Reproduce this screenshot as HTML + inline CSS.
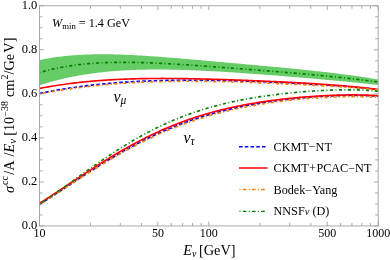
<!DOCTYPE html>
<html><head><meta charset="utf-8"><style>
html,body{margin:0;padding:0;background:#fff;overflow:hidden;}
svg{display:block;font-family:"Liberation Serif",serif;}
text{filter:grayscale(1);}
</style></head><body>
<svg width="390" height="260" viewBox="0 0 390 260">
<rect width="390" height="260" fill="#fff"/>
<path d="M39.50,60.16 L41.20,59.79 L42.90,59.44 L44.61,59.10 L46.31,58.77 L48.01,58.46 L49.71,58.16 L51.41,57.88 L53.12,57.61 L54.82,57.35 L56.52,57.10 L58.22,56.87 L59.92,56.65 L61.63,56.44 L63.33,56.24 L65.03,56.05 L66.73,55.87 L68.43,55.70 L70.14,55.55 L71.84,55.40 L73.54,55.27 L75.24,55.14 L76.94,55.02 L78.65,54.91 L80.35,54.81 L82.05,54.72 L83.75,54.64 L85.45,54.57 L87.16,54.50 L88.86,54.45 L90.56,54.40 L92.26,54.35 L93.96,54.32 L95.67,54.29 L97.37,54.27 L99.07,54.26 L100.77,54.25 L102.47,54.25 L104.18,54.25 L105.88,54.26 L107.58,54.28 L109.28,54.30 L110.98,54.33 L112.69,54.36 L114.39,54.40 L116.09,54.44 L117.79,54.49 L119.49,54.55 L121.20,54.60 L122.90,54.66 L124.60,54.73 L126.30,54.80 L128.00,54.88 L129.71,54.95 L131.41,55.03 L133.11,55.12 L134.81,55.21 L136.51,55.30 L138.22,55.40 L139.92,55.49 L141.62,55.60 L143.32,55.70 L145.02,55.81 L146.73,55.92 L148.43,56.03 L150.13,56.14 L151.83,56.26 L153.53,56.38 L155.24,56.50 L156.94,56.62 L158.64,56.75 L160.34,56.87 L162.04,57.00 L163.75,57.13 L165.45,57.26 L167.15,57.40 L168.85,57.53 L170.55,57.67 L172.26,57.80 L173.96,57.94 L175.66,58.08 L177.36,58.22 L179.06,58.36 L180.77,58.51 L182.47,58.65 L184.17,58.79 L185.87,58.94 L187.57,59.08 L189.28,59.23 L190.98,59.38 L192.68,59.53 L194.38,59.67 L196.08,59.82 L197.79,59.97 L199.49,60.12 L201.19,60.27 L202.89,60.42 L204.59,60.57 L206.30,60.72 L208.00,60.88 L209.70,61.03 L211.40,61.18 L213.11,61.33 L214.81,61.48 L216.51,61.64 L218.21,61.79 L219.91,61.94 L221.62,62.09 L223.32,62.25 L225.02,62.40 L226.72,62.55 L228.42,62.71 L230.13,62.86 L231.83,63.01 L233.53,63.16 L235.23,63.32 L236.93,63.47 L238.64,63.62 L240.34,63.78 L242.04,63.93 L243.74,64.09 L245.44,64.24 L247.15,64.39 L248.85,64.55 L250.55,64.70 L252.25,64.86 L253.95,65.01 L255.66,65.17 L257.36,65.32 L259.06,65.48 L260.76,65.63 L262.46,65.79 L264.17,65.94 L265.87,66.10 L267.57,66.26 L269.27,66.41 L270.97,66.57 L272.68,66.73 L274.38,66.89 L276.08,67.05 L277.78,67.21 L279.48,67.37 L281.19,67.53 L282.89,67.69 L284.59,67.85 L286.29,68.02 L287.99,68.18 L289.70,68.35 L291.40,68.51 L293.10,68.68 L294.80,68.85 L296.50,69.02 L298.21,69.19 L299.91,69.36 L301.61,69.53 L303.31,69.71 L305.01,69.88 L306.72,70.06 L308.42,70.23 L310.12,70.41 L311.82,70.59 L313.52,70.78 L315.23,70.96 L316.93,71.15 L318.63,71.33 L320.33,71.52 L322.03,71.72 L323.74,71.91 L325.44,72.10 L327.14,72.30 L328.84,72.50 L330.54,72.70 L332.25,72.91 L333.95,73.11 L335.65,73.32 L337.35,73.53 L339.05,73.75 L340.76,73.96 L342.46,74.18 L344.16,74.40 L345.86,74.63 L347.56,74.85 L349.27,75.09 L350.97,75.32 L352.67,75.56 L354.37,75.79 L356.07,76.04 L357.78,76.28 L359.48,76.53 L361.18,76.79 L362.88,77.04 L364.58,77.30 L366.29,77.57 L367.99,77.83 L369.69,78.11 L371.39,78.38 L373.09,78.66 L374.80,78.94 L376.50,79.23 L378.20,79.52 L378.20,84.93 L376.50,84.74 L374.80,84.56 L373.09,84.38 L371.39,84.20 L369.69,84.02 L367.99,83.84 L366.29,83.66 L364.58,83.48 L362.88,83.31 L361.18,83.14 L359.48,82.96 L357.78,82.79 L356.07,82.62 L354.37,82.45 L352.67,82.28 L350.97,82.12 L349.27,81.95 L347.56,81.79 L345.86,81.62 L344.16,81.46 L342.46,81.30 L340.76,81.14 L339.05,80.98 L337.35,80.82 L335.65,80.66 L333.95,80.50 L332.25,80.34 L330.54,80.19 L328.84,80.03 L327.14,79.88 L325.44,79.73 L323.74,79.57 L322.03,79.42 L320.33,79.27 L318.63,79.12 L316.93,78.97 L315.23,78.82 L313.52,78.67 L311.82,78.52 L310.12,78.37 L308.42,78.23 L306.72,78.08 L305.01,77.94 L303.31,77.79 L301.61,77.65 L299.91,77.50 L298.21,77.36 L296.50,77.22 L294.80,77.08 L293.10,76.93 L291.40,76.79 L289.70,76.65 L287.99,76.51 L286.29,76.38 L284.59,76.24 L282.89,76.10 L281.19,75.96 L279.48,75.83 L277.78,75.69 L276.08,75.56 L274.38,75.42 L272.68,75.29 L270.97,75.16 L269.27,75.03 L267.57,74.90 L265.87,74.77 L264.17,74.64 L262.46,74.51 L260.76,74.38 L259.06,74.25 L257.36,74.13 L255.66,74.00 L253.95,73.88 L252.25,73.75 L250.55,73.63 L248.85,73.51 L247.15,73.39 L245.44,73.27 L243.74,73.15 L242.04,73.03 L240.34,72.92 L238.64,72.80 L236.93,72.69 L235.23,72.58 L233.53,72.46 L231.83,72.35 L230.13,72.25 L228.42,72.14 L226.72,72.03 L225.02,71.93 L223.32,71.83 L221.62,71.72 L219.91,71.62 L218.21,71.53 L216.51,71.43 L214.81,71.33 L213.11,71.24 L211.40,71.15 L209.70,71.06 L208.00,70.97 L206.30,70.89 L204.59,70.80 L202.89,70.72 L201.19,70.64 L199.49,70.56 L197.79,70.49 L196.08,70.42 L194.38,70.35 L192.68,70.28 L190.98,70.21 L189.28,70.15 L187.57,70.09 L185.87,70.03 L184.17,69.98 L182.47,69.92 L180.77,69.88 L179.06,69.83 L177.36,69.79 L175.66,69.75 L173.96,69.71 L172.26,69.67 L170.55,69.64 L168.85,69.62 L167.15,69.59 L165.45,69.57 L163.75,69.56 L162.04,69.54 L160.34,69.54 L158.64,69.53 L156.94,69.53 L155.24,69.53 L153.53,69.54 L151.83,69.55 L150.13,69.57 L148.43,69.59 L146.73,69.61 L145.02,69.64 L143.32,69.68 L141.62,69.72 L139.92,69.76 L138.22,69.81 L136.51,69.86 L134.81,69.92 L133.11,69.99 L131.41,70.06 L129.71,70.13 L128.00,70.21 L126.30,70.30 L124.60,70.39 L122.90,70.49 L121.20,70.60 L119.49,70.71 L117.79,70.83 L116.09,70.95 L114.39,71.08 L112.69,71.22 L110.98,71.36 L109.28,71.51 L107.58,71.67 L105.88,71.84 L104.18,72.01 L102.47,72.19 L100.77,72.38 L99.07,72.57 L97.37,72.78 L95.67,72.99 L93.96,73.21 L92.26,73.44 L90.56,73.67 L88.86,73.92 L87.16,74.17 L85.45,74.43 L83.75,74.71 L82.05,74.99 L80.35,75.28 L78.65,75.57 L76.94,75.88 L75.24,76.20 L73.54,76.53 L71.84,76.87 L70.14,77.22 L68.43,77.58 L66.73,77.95 L65.03,78.33 L63.33,78.72 L61.63,79.12 L59.92,79.53 L58.22,79.96 L56.52,80.40 L54.82,80.84 L53.12,81.30 L51.41,81.78 L49.71,82.26 L48.01,82.76 L46.31,83.27 L44.61,83.79 L42.90,84.32 L41.20,84.87 L39.50,85.43Z" fill="#66cd66" stroke="none"/>
<g fill="none" stroke-linecap="butt">
<path d="M39.50,93.51 L41.20,93.15 L42.90,92.80 L44.61,92.46 L46.31,92.12 L48.01,91.79 L49.71,91.47 L51.41,91.15 L53.12,90.83 L54.82,90.53 L56.52,90.22 L58.22,89.93 L59.92,89.63 L61.63,89.35 L63.33,89.07 L65.03,88.79 L66.73,88.52 L68.43,88.26 L70.14,88.00 L71.84,87.74 L73.54,87.49 L75.24,87.25 L76.94,87.01 L78.65,86.77 L80.35,86.54 L82.05,86.32 L83.75,86.10 L85.45,85.89 L87.16,85.68 L88.86,85.47 L90.56,85.27 L92.26,85.08 L93.96,84.89 L95.67,84.70 L97.37,84.52 L99.07,84.34 L100.77,84.17 L102.47,84.00 L104.18,83.83 L105.88,83.67 L107.58,83.52 L109.28,83.37 L110.98,83.22 L112.69,83.08 L114.39,82.94 L116.09,82.80 L117.79,82.67 L119.49,82.55 L121.20,82.42 L122.90,82.30 L124.60,82.19 L126.30,82.08 L128.00,81.97 L129.71,81.87 L131.41,81.77 L133.11,81.67 L134.81,81.58 L136.51,81.49 L138.22,81.40 L139.92,81.32 L141.62,81.24 L143.32,81.16 L145.02,81.09 L146.73,81.02 L148.43,80.95 L150.13,80.89 L151.83,80.83 L153.53,80.77 L155.24,80.72 L156.94,80.67 L158.64,80.62 L160.34,80.57 L162.04,80.53 L163.75,80.49 L165.45,80.46 L167.15,80.42 L168.85,80.39 L170.55,80.36 L172.26,80.34 L173.96,80.31 L175.66,80.29 L177.36,80.27 L179.06,80.26 L180.77,80.24 L182.47,80.23 L184.17,80.22 L185.87,80.22 L187.57,80.21 L189.28,80.21 L190.98,80.21 L192.68,80.22 L194.38,80.22 L196.08,80.23 L197.79,80.24 L199.49,80.25 L201.19,80.26 L202.89,80.27 L204.59,80.29 L206.30,80.31 L208.00,80.33 L209.70,80.35 L211.40,80.38 L213.11,80.40 L214.81,80.43 L216.51,80.46 L218.21,80.49 L219.91,80.52 L221.62,80.56 L223.32,80.59 L225.02,80.63 L226.72,80.67 L228.42,80.71 L230.13,80.75 L231.83,80.79 L233.53,80.84 L235.23,80.88 L236.93,80.93 L238.64,80.98 L240.34,81.03 L242.04,81.08 L243.74,81.14 L245.44,81.19 L247.15,81.25 L248.85,81.30 L250.55,81.36 L252.25,81.42 L253.95,81.48 L255.66,81.54 L257.36,81.61 L259.06,81.67 L260.76,81.74 L262.46,81.80 L264.17,81.87 L265.87,81.94 L267.57,82.01 L269.27,82.08 L270.97,82.15 L272.68,82.23 L274.38,82.30 L276.08,82.38 L277.78,82.45 L279.48,82.53 L281.19,82.61 L282.89,82.69 L284.59,82.77 L286.29,82.85 L287.99,82.94 L289.70,83.02 L291.40,83.11 L293.10,83.19 L294.80,83.28 L296.50,83.37 L298.21,83.46 L299.91,83.55 L301.61,83.64 L303.31,83.74 L305.01,83.83 L306.72,83.93 L308.42,84.02 L310.12,84.12 L311.82,84.22 L313.52,84.32 L315.23,84.42 L316.93,84.53 L318.63,84.63 L320.33,84.74 L322.03,84.84 L323.74,84.95 L325.44,85.06 L327.14,85.17 L328.84,85.29 L330.54,85.40 L332.25,85.52 L333.95,85.63 L335.65,85.75 L337.35,85.87 L339.05,86.00 L340.76,86.12 L342.46,86.24 L344.16,86.37 L345.86,86.50 L347.56,86.63 L349.27,86.76 L350.97,86.90 L352.67,87.04 L354.37,87.17 L356.07,87.32 L357.78,87.46 L359.48,87.60 L361.18,87.75 L362.88,87.90 L364.58,88.05 L366.29,88.21 L367.99,88.36 L369.69,88.52 L371.39,88.68 L373.09,88.85 L374.80,89.01 L376.50,89.18 L378.20,89.36" stroke="#0000ff" stroke-width="1.65" stroke-dasharray="3.6,2.15"/>
<path d="M39.50,204.27 L41.20,203.21 L42.90,202.14 L44.61,201.07 L46.31,199.99 L48.01,198.90 L49.71,197.81 L51.41,196.71 L53.12,195.61 L54.82,194.50 L56.52,193.39 L58.22,192.28 L59.92,191.17 L61.63,190.05 L63.33,188.93 L65.03,187.81 L66.73,186.69 L68.43,185.57 L70.14,184.45 L71.84,183.33 L73.54,182.21 L75.24,181.09 L76.94,179.98 L78.65,178.86 L80.35,177.75 L82.05,176.64 L83.75,175.53 L85.45,174.43 L87.16,173.33 L88.86,172.24 L90.56,171.15 L92.26,170.06 L93.96,168.98 L95.67,167.90 L97.37,166.83 L99.07,165.76 L100.77,164.70 L102.47,163.65 L104.18,162.60 L105.88,161.56 L107.58,160.52 L109.28,159.50 L110.98,158.48 L112.69,157.46 L114.39,156.45 L116.09,155.46 L117.79,154.46 L119.49,153.48 L121.20,152.51 L122.90,151.54 L124.60,150.58 L126.30,149.63 L128.00,148.69 L129.71,147.75 L131.41,146.83 L133.11,145.91 L134.81,145.01 L136.51,144.11 L138.22,143.22 L139.92,142.34 L141.62,141.47 L143.32,140.61 L145.02,139.76 L146.73,138.92 L148.43,138.09 L150.13,137.26 L151.83,136.45 L153.53,135.65 L155.24,134.85 L156.94,134.07 L158.64,133.29 L160.34,132.53 L162.04,131.77 L163.75,131.03 L165.45,130.29 L167.15,129.57 L168.85,128.85 L170.55,128.14 L172.26,127.44 L173.96,126.76 L175.66,126.08 L177.36,125.41 L179.06,124.75 L180.77,124.10 L182.47,123.46 L184.17,122.83 L185.87,122.21 L187.57,121.60 L189.28,121.00 L190.98,120.40 L192.68,119.82 L194.38,119.24 L196.08,118.68 L197.79,118.12 L199.49,117.57 L201.19,117.03 L202.89,116.50 L204.59,115.98 L206.30,115.47 L208.00,114.96 L209.70,114.47 L211.40,113.98 L213.11,113.50 L214.81,113.03 L216.51,112.56 L218.21,112.11 L219.91,111.66 L221.62,111.22 L223.32,110.79 L225.02,110.37 L226.72,109.95 L228.42,109.54 L230.13,109.14 L231.83,108.75 L233.53,108.36 L235.23,107.98 L236.93,107.61 L238.64,107.25 L240.34,106.89 L242.04,106.54 L243.74,106.19 L245.44,105.85 L247.15,105.52 L248.85,105.20 L250.55,104.88 L252.25,104.57 L253.95,104.26 L255.66,103.96 L257.36,103.66 L259.06,103.38 L260.76,103.09 L262.46,102.82 L264.17,102.55 L265.87,102.28 L267.57,102.02 L269.27,101.77 L270.97,101.52 L272.68,101.28 L274.38,101.04 L276.08,100.80 L277.78,100.58 L279.48,100.35 L281.19,100.14 L282.89,99.92 L284.59,99.72 L286.29,99.51 L287.99,99.32 L289.70,99.12 L291.40,98.94 L293.10,98.75 L294.80,98.57 L296.50,98.40 L298.21,98.23 L299.91,98.07 L301.61,97.91 L303.31,97.75 L305.01,97.60 L306.72,97.45 L308.42,97.31 L310.12,97.18 L311.82,97.04 L313.52,96.92 L315.23,96.79 L316.93,96.68 L318.63,96.56 L320.33,96.45 L322.03,96.35 L323.74,96.25 L325.44,96.16 L327.14,96.07 L328.84,95.99 L330.54,95.91 L332.25,95.83 L333.95,95.77 L335.65,95.70 L337.35,95.64 L339.05,95.59 L340.76,95.55 L342.46,95.51 L344.16,95.47 L345.86,95.44 L347.56,95.42 L349.27,95.41 L350.97,95.40 L352.67,95.39 L354.37,95.40 L356.07,95.41 L357.78,95.42 L359.48,95.45 L361.18,95.48 L362.88,95.52 L364.58,95.57 L366.29,95.63 L367.99,95.69 L369.69,95.76 L371.39,95.84 L373.09,95.93 L374.80,96.03 L376.50,96.14 L378.20,96.26" stroke="#0000ff" stroke-width="1.65" stroke-dasharray="3.6,2.15"/>
<path d="M39.50,88.46 L41.20,88.14 L42.90,87.81 L44.61,87.50 L46.31,87.19 L48.01,86.89 L49.71,86.59 L51.41,86.30 L53.12,86.02 L54.82,85.74 L56.52,85.47 L58.22,85.21 L59.92,84.95 L61.63,84.70 L63.33,84.46 L65.03,84.22 L66.73,83.99 L68.43,83.76 L70.14,83.54 L71.84,83.32 L73.54,83.11 L75.24,82.91 L76.94,82.71 L78.65,82.52 L80.35,82.33 L82.05,82.15 L83.75,81.97 L85.45,81.80 L87.16,81.63 L88.86,81.47 L90.56,81.31 L92.26,81.16 L93.96,81.02 L95.67,80.87 L97.37,80.74 L99.07,80.61 L100.77,80.48 L102.47,80.36 L104.18,80.24 L105.88,80.12 L107.58,80.01 L109.28,79.91 L110.98,79.81 L112.69,79.71 L114.39,79.62 L116.09,79.53 L117.79,79.45 L119.49,79.36 L121.20,79.29 L122.90,79.21 L124.60,79.15 L126.30,79.08 L128.00,79.02 L129.71,78.96 L131.41,78.90 L133.11,78.85 L134.81,78.81 L136.51,78.76 L138.22,78.72 L139.92,78.68 L141.62,78.65 L143.32,78.61 L145.02,78.58 L146.73,78.56 L148.43,78.53 L150.13,78.51 L151.83,78.50 L153.53,78.48 L155.24,78.47 L156.94,78.46 L158.64,78.45 L160.34,78.45 L162.04,78.44 L163.75,78.44 L165.45,78.45 L167.15,78.45 L168.85,78.46 L170.55,78.47 L172.26,78.48 L173.96,78.49 L175.66,78.51 L177.36,78.52 L179.06,78.54 L180.77,78.57 L182.47,78.59 L184.17,78.61 L185.87,78.64 L187.57,78.67 L189.28,78.70 L190.98,78.73 L192.68,78.76 L194.38,78.80 L196.08,78.83 L197.79,78.87 L199.49,78.91 L201.19,78.95 L202.89,78.99 L204.59,79.03 L206.30,79.08 L208.00,79.12 L209.70,79.17 L211.40,79.22 L213.11,79.26 L214.81,79.31 L216.51,79.37 L218.21,79.42 L219.91,79.47 L221.62,79.52 L223.32,79.58 L225.02,79.64 L226.72,79.69 L228.42,79.75 L230.13,79.81 L231.83,79.87 L233.53,79.93 L235.23,79.99 L236.93,80.05 L238.64,80.12 L240.34,80.18 L242.04,80.24 L243.74,80.31 L245.44,80.37 L247.15,80.44 L248.85,80.51 L250.55,80.58 L252.25,80.65 L253.95,80.72 L255.66,80.79 L257.36,80.86 L259.06,80.93 L260.76,81.00 L262.46,81.07 L264.17,81.15 L265.87,81.22 L267.57,81.30 L269.27,81.38 L270.97,81.45 L272.68,81.53 L274.38,81.61 L276.08,81.69 L277.78,81.77 L279.48,81.85 L281.19,81.93 L282.89,82.01 L284.59,82.10 L286.29,82.18 L287.99,82.27 L289.70,82.35 L291.40,82.44 L293.10,82.53 L294.80,82.62 L296.50,82.71 L298.21,82.80 L299.91,82.90 L301.61,82.99 L303.31,83.09 L305.01,83.18 L306.72,83.28 L308.42,83.38 L310.12,83.48 L311.82,83.59 L313.52,83.69 L315.23,83.80 L316.93,83.90 L318.63,84.01 L320.33,84.12 L322.03,84.24 L323.74,84.35 L325.44,84.47 L327.14,84.59 L328.84,84.71 L330.54,84.83 L332.25,84.96 L333.95,85.08 L335.65,85.21 L337.35,85.35 L339.05,85.48 L340.76,85.62 L342.46,85.76 L344.16,85.90 L345.86,86.05 L347.56,86.20 L349.27,86.35 L350.97,86.51 L352.67,86.66 L354.37,86.83 L356.07,86.99 L357.78,87.16 L359.48,87.33 L361.18,87.51 L362.88,87.69 L364.58,87.87 L366.29,88.06 L367.99,88.26 L369.69,88.45 L371.39,88.65 L373.09,88.86 L374.80,89.07 L376.50,89.29 L378.20,89.51" stroke="#ff0000" stroke-width="1.65"/>
<path d="M39.50,203.26 L41.20,202.21 L42.90,201.16 L44.61,200.09 L46.31,199.01 L48.01,197.93 L49.71,196.84 L51.41,195.75 L53.12,194.64 L54.82,193.54 L56.52,192.42 L58.22,191.31 L59.92,190.19 L61.63,189.06 L63.33,187.94 L65.03,186.81 L66.73,185.68 L68.43,184.55 L70.14,183.42 L71.84,182.29 L73.54,181.16 L75.24,180.02 L76.94,178.89 L78.65,177.77 L80.35,176.64 L82.05,175.52 L83.75,174.40 L85.45,173.28 L87.16,172.16 L88.86,171.05 L90.56,169.94 L92.26,168.84 L93.96,167.74 L95.67,166.65 L97.37,165.56 L99.07,164.48 L100.77,163.40 L102.47,162.33 L104.18,161.27 L105.88,160.21 L107.58,159.16 L109.28,158.11 L110.98,157.08 L112.69,156.05 L114.39,155.03 L116.09,154.01 L117.79,153.01 L119.49,152.01 L121.20,151.02 L122.90,150.04 L124.60,149.07 L126.30,148.11 L128.00,147.15 L129.71,146.21 L131.41,145.27 L133.11,144.35 L134.81,143.43 L136.51,142.52 L138.22,141.63 L139.92,140.74 L141.62,139.86 L143.32,138.99 L145.02,138.14 L146.73,137.29 L148.43,136.45 L150.13,135.62 L151.83,134.80 L153.53,134.00 L155.24,133.20 L156.94,132.41 L158.64,131.64 L160.34,130.87 L162.04,130.11 L163.75,129.37 L165.45,128.63 L167.15,127.91 L168.85,127.19 L170.55,126.49 L172.26,125.79 L173.96,125.11 L175.66,124.43 L177.36,123.77 L179.06,123.12 L180.77,122.47 L182.47,121.84 L184.17,121.21 L185.87,120.60 L187.57,120.00 L189.28,119.40 L190.98,118.82 L192.68,118.24 L194.38,117.68 L196.08,117.12 L197.79,116.57 L199.49,116.04 L201.19,115.51 L202.89,114.99 L204.59,114.48 L206.30,113.98 L208.00,113.49 L209.70,113.01 L211.40,112.53 L213.11,112.07 L214.81,111.61 L216.51,111.16 L218.21,110.72 L219.91,110.29 L221.62,109.87 L223.32,109.45 L225.02,109.05 L226.72,108.65 L228.42,108.25 L230.13,107.87 L231.83,107.49 L233.53,107.12 L235.23,106.76 L236.93,106.41 L238.64,106.06 L240.34,105.72 L242.04,105.38 L243.74,105.06 L245.44,104.74 L247.15,104.42 L248.85,104.11 L250.55,103.81 L252.25,103.52 L253.95,103.23 L255.66,102.95 L257.36,102.67 L259.06,102.40 L260.76,102.13 L262.46,101.87 L264.17,101.62 L265.87,101.37 L267.57,101.13 L269.27,100.89 L270.97,100.66 L272.68,100.43 L274.38,100.21 L276.08,99.99 L277.78,99.78 L279.48,99.57 L281.19,99.37 L282.89,99.17 L284.59,98.98 L286.29,98.79 L287.99,98.60 L289.70,98.42 L291.40,98.25 L293.10,98.08 L294.80,97.91 L296.50,97.75 L298.21,97.59 L299.91,97.44 L301.61,97.29 L303.31,97.14 L305.01,97.00 L306.72,96.87 L308.42,96.73 L310.12,96.61 L311.82,96.48 L313.52,96.36 L315.23,96.25 L316.93,96.14 L318.63,96.03 L320.33,95.93 L322.03,95.83 L323.74,95.74 L325.44,95.65 L327.14,95.56 L328.84,95.48 L330.54,95.41 L332.25,95.34 L333.95,95.27 L335.65,95.21 L337.35,95.16 L339.05,95.11 L340.76,95.06 L342.46,95.02 L344.16,94.99 L345.86,94.96 L347.56,94.94 L349.27,94.92 L350.97,94.91 L352.67,94.91 L354.37,94.91 L356.07,94.92 L357.78,94.94 L359.48,94.96 L361.18,94.99 L362.88,95.03 L364.58,95.08 L366.29,95.13 L367.99,95.19 L369.69,95.26 L371.39,95.34 L373.09,95.43 L374.80,95.53 L376.50,95.64 L378.20,95.75" stroke="#ff0000" stroke-width="1.65"/>
<path d="M39.50,93.77 L41.20,93.46 L42.90,93.16 L44.61,92.86 L46.31,92.57 L48.01,92.27 L49.71,91.99 L51.41,91.70 L53.12,91.42 L54.82,91.15 L56.52,90.87 L58.22,90.60 L59.92,90.34 L61.63,90.08 L63.33,89.82 L65.03,89.57 L66.73,89.32 L68.43,89.07 L70.14,88.83 L71.84,88.59 L73.54,88.35 L75.24,88.12 L76.94,87.90 L78.65,87.68 L80.35,87.46 L82.05,87.24 L83.75,87.03 L85.45,86.83 L87.16,86.63 L88.86,86.43 L90.56,86.23 L92.26,86.04 L93.96,85.86 L95.67,85.68 L97.37,85.50 L99.07,85.33 L100.77,85.16 L102.47,84.99 L104.18,84.83 L105.88,84.67 L107.58,84.52 L109.28,84.37 L110.98,84.22 L112.69,84.08 L114.39,83.94 L116.09,83.81 L117.79,83.68 L119.49,83.55 L121.20,83.43 L122.90,83.31 L124.60,83.20 L126.30,83.08 L128.00,82.98 L129.71,82.87 L131.41,82.77 L133.11,82.68 L134.81,82.58 L136.51,82.49 L138.22,82.41 L139.92,82.33 L141.62,82.25 L143.32,82.17 L145.02,82.10 L146.73,82.03 L148.43,81.97 L150.13,81.90 L151.83,81.85 L153.53,81.79 L155.24,81.74 L156.94,81.69 L158.64,81.64 L160.34,81.60 L162.04,81.56 L163.75,81.52 L165.45,81.49 L167.15,81.46 L168.85,81.43 L170.55,81.40 L172.26,81.38 L173.96,81.36 L175.66,81.34 L177.36,81.33 L179.06,81.32 L180.77,81.31 L182.47,81.30 L184.17,81.29 L185.87,81.29 L187.57,81.29 L189.28,81.29 L190.98,81.30 L192.68,81.31 L194.38,81.31 L196.08,81.33 L197.79,81.34 L199.49,81.35 L201.19,81.37 L202.89,81.39 L204.59,81.41 L206.30,81.43 L208.00,81.46 L209.70,81.49 L211.40,81.52 L213.11,81.55 L214.81,81.58 L216.51,81.61 L218.21,81.65 L219.91,81.68 L221.62,81.72 L223.32,81.76 L225.02,81.80 L226.72,81.85 L228.42,81.89 L230.13,81.93 L231.83,81.98 L233.53,82.03 L235.23,82.08 L236.93,82.13 L238.64,82.18 L240.34,82.23 L242.04,82.29 L243.74,82.34 L245.44,82.40 L247.15,82.45 L248.85,82.51 L250.55,82.57 L252.25,82.63 L253.95,82.69 L255.66,82.75 L257.36,82.82 L259.06,82.88 L260.76,82.94 L262.46,83.01 L264.17,83.08 L265.87,83.14 L267.57,83.21 L269.27,83.28 L270.97,83.35 L272.68,83.42 L274.38,83.49 L276.08,83.56 L277.78,83.63 L279.48,83.70 L281.19,83.78 L282.89,83.85 L284.59,83.92 L286.29,84.00 L287.99,84.08 L289.70,84.15 L291.40,84.23 L293.10,84.31 L294.80,84.39 L296.50,84.47 L298.21,84.55 L299.91,84.63 L301.61,84.71 L303.31,84.79 L305.01,84.88 L306.72,84.96 L308.42,85.05 L310.12,85.13 L311.82,85.22 L313.52,85.31 L315.23,85.40 L316.93,85.49 L318.63,85.58 L320.33,85.67 L322.03,85.76 L323.74,85.86 L325.44,85.95 L327.14,86.05 L328.84,86.15 L330.54,86.25 L332.25,86.35 L333.95,86.45 L335.65,86.56 L337.35,86.66 L339.05,86.77 L340.76,86.88 L342.46,86.99 L344.16,87.10 L345.86,87.21 L347.56,87.33 L349.27,87.45 L350.97,87.57 L352.67,87.69 L354.37,87.82 L356.07,87.95 L357.78,88.08 L359.48,88.21 L361.18,88.34 L362.88,88.48 L364.58,88.62 L366.29,88.77 L367.99,88.91 L369.69,89.06 L371.39,89.22 L373.09,89.37 L374.80,89.53 L376.50,89.70 L378.20,89.87" stroke="#ff8000" stroke-width="1.65" stroke-dasharray="1,2.4,3.2,2.4"/>
<path d="M39.50,204.69 L41.20,203.62 L42.90,202.55 L44.61,201.47 L46.31,200.38 L48.01,199.29 L49.71,198.20 L51.41,197.10 L53.12,196.00 L54.82,194.90 L56.52,193.79 L58.22,192.68 L59.92,191.57 L61.63,190.46 L63.33,189.34 L65.03,188.23 L66.73,187.12 L68.43,186.00 L70.14,184.89 L71.84,183.78 L73.54,182.67 L75.24,181.56 L76.94,180.45 L78.65,179.35 L80.35,178.25 L82.05,177.15 L83.75,176.06 L85.45,174.96 L87.16,173.88 L88.86,172.79 L90.56,171.71 L92.26,170.64 L93.96,169.57 L95.67,168.51 L97.37,167.45 L99.07,166.39 L100.77,165.35 L102.47,164.31 L104.18,163.27 L105.88,162.24 L107.58,161.22 L109.28,160.20 L110.98,159.20 L112.69,158.20 L114.39,157.20 L116.09,156.22 L117.79,155.24 L119.49,154.27 L121.20,153.30 L122.90,152.35 L124.60,151.40 L126.30,150.46 L128.00,149.53 L129.71,148.61 L131.41,147.70 L133.11,146.80 L134.81,145.90 L136.51,145.01 L138.22,144.14 L139.92,143.27 L141.62,142.41 L143.32,141.56 L145.02,140.72 L146.73,139.88 L148.43,139.06 L150.13,138.25 L151.83,137.44 L153.53,136.65 L155.24,135.86 L156.94,135.09 L158.64,134.32 L160.34,133.57 L162.04,132.82 L163.75,132.08 L165.45,131.35 L167.15,130.63 L168.85,129.92 L170.55,129.22 L172.26,128.53 L173.96,127.85 L175.66,127.18 L177.36,126.51 L179.06,125.86 L180.77,125.22 L182.47,124.58 L184.17,123.96 L185.87,123.34 L187.57,122.73 L189.28,122.13 L190.98,121.54 L192.68,120.96 L194.38,120.39 L196.08,119.83 L197.79,119.28 L199.49,118.73 L201.19,118.20 L202.89,117.67 L204.59,117.15 L206.30,116.64 L208.00,116.14 L209.70,115.64 L211.40,115.16 L213.11,114.68 L214.81,114.21 L216.51,113.75 L218.21,113.29 L219.91,112.85 L221.62,112.41 L223.32,111.98 L225.02,111.56 L226.72,111.14 L228.42,110.74 L230.13,110.34 L231.83,109.94 L233.53,109.56 L235.23,109.18 L236.93,108.81 L238.64,108.44 L240.34,108.09 L242.04,107.74 L243.74,107.39 L245.44,107.05 L247.15,106.72 L248.85,106.40 L250.55,106.08 L252.25,105.77 L253.95,105.46 L255.66,105.16 L257.36,104.87 L259.06,104.58 L260.76,104.30 L262.46,104.03 L264.17,103.76 L265.87,103.49 L267.57,103.23 L269.27,102.98 L270.97,102.73 L272.68,102.49 L274.38,102.25 L276.08,102.02 L277.78,101.79 L279.48,101.57 L281.19,101.35 L282.89,101.14 L284.59,100.94 L286.29,100.74 L287.99,100.54 L289.70,100.35 L291.40,100.16 L293.10,99.98 L294.80,99.80 L296.50,99.63 L298.21,99.46 L299.91,99.30 L301.61,99.14 L303.31,98.98 L305.01,98.83 L306.72,98.69 L308.42,98.55 L310.12,98.41 L311.82,98.28 L313.52,98.16 L315.23,98.03 L316.93,97.92 L318.63,97.80 L320.33,97.70 L322.03,97.59 L323.74,97.50 L325.44,97.40 L327.14,97.31 L328.84,97.23 L330.54,97.15 L332.25,97.08 L333.95,97.01 L335.65,96.95 L337.35,96.89 L339.05,96.83 L340.76,96.79 L342.46,96.74 L344.16,96.71 L345.86,96.68 L347.56,96.65 L349.27,96.63 L350.97,96.62 L352.67,96.61 L354.37,96.61 L356.07,96.62 L357.78,96.63 L359.48,96.65 L361.18,96.67 L362.88,96.71 L364.58,96.75 L366.29,96.80 L367.99,96.85 L369.69,96.91 L371.39,96.99 L373.09,97.06 L374.80,97.15 L376.50,97.25 L378.20,97.35" stroke="#ff8000" stroke-width="1.65" stroke-dasharray="1,2.4,3.2,2.4"/>
<path d="M39.50,72.62 L41.20,72.12 L42.90,71.63 L44.61,71.16 L46.31,70.70 L48.01,70.26 L49.71,69.83 L51.41,69.42 L53.12,69.03 L54.82,68.64 L56.52,68.28 L58.22,67.92 L59.92,67.58 L61.63,67.26 L63.33,66.94 L65.03,66.64 L66.73,66.36 L68.43,66.08 L70.14,65.82 L71.84,65.56 L73.54,65.32 L75.24,65.09 L76.94,64.87 L78.65,64.67 L80.35,64.47 L82.05,64.28 L83.75,64.10 L85.45,63.94 L87.16,63.78 L88.86,63.63 L90.56,63.49 L92.26,63.36 L93.96,63.24 L95.67,63.13 L97.37,63.02 L99.07,62.92 L100.77,62.83 L102.47,62.75 L104.18,62.68 L105.88,62.61 L107.58,62.55 L109.28,62.50 L110.98,62.45 L112.69,62.41 L114.39,62.38 L116.09,62.35 L117.79,62.33 L119.49,62.31 L121.20,62.30 L122.90,62.30 L124.60,62.30 L126.30,62.31 L128.00,62.32 L129.71,62.34 L131.41,62.36 L133.11,62.38 L134.81,62.41 L136.51,62.45 L138.22,62.49 L139.92,62.53 L141.62,62.57 L143.32,62.62 L145.02,62.68 L146.73,62.74 L148.43,62.80 L150.13,62.86 L151.83,62.93 L153.53,63.00 L155.24,63.07 L156.94,63.15 L158.64,63.23 L160.34,63.31 L162.04,63.39 L163.75,63.48 L165.45,63.57 L167.15,63.66 L168.85,63.75 L170.55,63.85 L172.26,63.95 L173.96,64.05 L175.66,64.15 L177.36,64.25 L179.06,64.36 L180.77,64.46 L182.47,64.57 L184.17,64.68 L185.87,64.79 L187.57,64.90 L189.28,65.02 L190.98,65.13 L192.68,65.25 L194.38,65.36 L196.08,65.48 L197.79,65.60 L199.49,65.72 L201.19,65.84 L202.89,65.96 L204.59,66.08 L206.30,66.21 L208.00,66.33 L209.70,66.46 L211.40,66.58 L213.11,66.71 L214.81,66.83 L216.51,66.96 L218.21,67.09 L219.91,67.21 L221.62,67.34 L223.32,67.47 L225.02,67.60 L226.72,67.73 L228.42,67.86 L230.13,67.99 L231.83,68.12 L233.53,68.25 L235.23,68.38 L236.93,68.51 L238.64,68.64 L240.34,68.77 L242.04,68.91 L243.74,69.04 L245.44,69.17 L247.15,69.30 L248.85,69.44 L250.55,69.57 L252.25,69.70 L253.95,69.84 L255.66,69.97 L257.36,70.11 L259.06,70.24 L260.76,70.38 L262.46,70.51 L264.17,70.65 L265.87,70.78 L267.57,70.92 L269.27,71.05 L270.97,71.19 L272.68,71.33 L274.38,71.47 L276.08,71.61 L277.78,71.74 L279.48,71.88 L281.19,72.02 L282.89,72.16 L284.59,72.30 L286.29,72.45 L287.99,72.59 L289.70,72.73 L291.40,72.87 L293.10,73.02 L294.80,73.16 L296.50,73.31 L298.21,73.46 L299.91,73.60 L301.61,73.75 L303.31,73.90 L305.01,74.05 L306.72,74.20 L308.42,74.35 L310.12,74.51 L311.82,74.66 L313.52,74.82 L315.23,74.97 L316.93,75.13 L318.63,75.29 L320.33,75.45 L322.03,75.61 L323.74,75.78 L325.44,75.94 L327.14,76.11 L328.84,76.28 L330.54,76.45 L332.25,76.62 L333.95,76.79 L335.65,76.97 L337.35,77.14 L339.05,77.32 L340.76,77.50 L342.46,77.69 L344.16,77.87 L345.86,78.06 L347.56,78.25 L349.27,78.44 L350.97,78.63 L352.67,78.83 L354.37,79.03 L356.07,79.23 L357.78,79.43 L359.48,79.63 L361.18,79.84 L362.88,80.05 L364.58,80.27 L366.29,80.48 L367.99,80.70 L369.69,80.93 L371.39,81.15 L373.09,81.38 L374.80,81.61 L376.50,81.84 L378.20,82.08" stroke="#008000" stroke-width="1.65" stroke-dasharray="1,2.4,3.2,2.4"/>
<path d="M39.50,204.00 L41.20,202.90 L42.90,201.79 L44.61,200.67 L46.31,199.53 L48.01,198.39 L49.71,197.23 L51.41,196.07 L53.12,194.90 L54.82,193.72 L56.52,192.53 L58.22,191.34 L59.92,190.14 L61.63,188.94 L63.33,187.73 L65.03,186.52 L66.73,185.30 L68.43,184.08 L70.14,182.86 L71.84,181.64 L73.54,180.42 L75.24,179.20 L76.94,177.98 L78.65,176.76 L80.35,175.54 L82.05,174.32 L83.75,173.11 L85.45,171.90 L87.16,170.69 L88.86,169.48 L90.56,168.28 L92.26,167.09 L93.96,165.89 L95.67,164.71 L97.37,163.53 L99.07,162.35 L100.77,161.19 L102.47,160.02 L104.18,158.87 L105.88,157.72 L107.58,156.58 L109.28,155.45 L110.98,154.33 L112.69,153.22 L114.39,152.11 L116.09,151.01 L117.79,149.92 L119.49,148.85 L121.20,147.78 L122.90,146.72 L124.60,145.67 L126.30,144.63 L128.00,143.60 L129.71,142.58 L131.41,141.57 L133.11,140.58 L134.81,139.59 L136.51,138.62 L138.22,137.65 L139.92,136.70 L141.62,135.76 L143.32,134.83 L145.02,133.91 L146.73,133.00 L148.43,132.11 L150.13,131.22 L151.83,130.35 L153.53,129.49 L155.24,128.64 L156.94,127.81 L158.64,126.98 L160.34,126.17 L162.04,125.37 L163.75,124.58 L165.45,123.80 L167.15,123.03 L168.85,122.28 L170.55,121.54 L172.26,120.81 L173.96,120.09 L175.66,119.38 L177.36,118.68 L179.06,118.00 L180.77,117.33 L182.47,116.66 L184.17,116.01 L185.87,115.37 L187.57,114.75 L189.28,114.13 L190.98,113.52 L192.68,112.93 L194.38,112.34 L196.08,111.77 L197.79,111.21 L199.49,110.65 L201.19,110.11 L202.89,109.58 L204.59,109.06 L206.30,108.55 L208.00,108.04 L209.70,107.55 L211.40,107.07 L213.11,106.60 L214.81,106.13 L216.51,105.68 L218.21,105.23 L219.91,104.80 L221.62,104.37 L223.32,103.95 L225.02,103.54 L226.72,103.14 L228.42,102.74 L230.13,102.36 L231.83,101.98 L233.53,101.61 L235.23,101.25 L236.93,100.90 L238.64,100.55 L240.34,100.21 L242.04,99.88 L243.74,99.56 L245.44,99.24 L247.15,98.93 L248.85,98.62 L250.55,98.33 L252.25,98.04 L253.95,97.75 L255.66,97.47 L257.36,97.20 L259.06,96.93 L260.76,96.67 L262.46,96.42 L264.17,96.17 L265.87,95.93 L267.57,95.69 L269.27,95.45 L270.97,95.23 L272.68,95.00 L274.38,94.79 L276.08,94.57 L277.78,94.37 L279.48,94.16 L281.19,93.97 L282.89,93.77 L284.59,93.58 L286.29,93.40 L287.99,93.22 L289.70,93.04 L291.40,92.87 L293.10,92.71 L294.80,92.54 L296.50,92.39 L298.21,92.23 L299.91,92.08 L301.61,91.94 L303.31,91.80 L305.01,91.66 L306.72,91.53 L308.42,91.40 L310.12,91.28 L311.82,91.16 L313.52,91.04 L315.23,90.93 L316.93,90.82 L318.63,90.72 L320.33,90.63 L322.03,90.53 L323.74,90.45 L325.44,90.36 L327.14,90.29 L328.84,90.21 L330.54,90.15 L332.25,90.09 L333.95,90.03 L335.65,89.98 L337.35,89.93 L339.05,89.90 L340.76,89.86 L342.46,89.84 L344.16,89.82 L345.86,89.81 L347.56,89.80 L349.27,89.80 L350.97,89.81 L352.67,89.83 L354.37,89.86 L356.07,89.89 L357.78,89.93 L359.48,89.98 L361.18,90.04 L362.88,90.11 L364.58,90.19 L366.29,90.28 L367.99,90.38 L369.69,90.50 L371.39,90.62 L373.09,90.75 L374.80,90.90 L376.50,91.06 L378.20,91.24" stroke="#008000" stroke-width="1.65" stroke-dasharray="1,2.4,3.2,2.4"/>
</g>
<g fill="none" stroke="#a0a0a0" stroke-width="0.9">
<rect x="39.5" y="5.75" width="338.7" height="220.2"/>
<path d="M39.50,225.95 v-4.4 M39.50,5.75 v4.4 M90.48,225.95 v-3.0 M90.48,5.75 v3.0 M120.30,225.95 v-3.0 M120.30,5.75 v3.0 M141.46,225.95 v-3.0 M141.46,5.75 v3.0 M157.87,225.95 v-4.4 M157.87,5.75 v4.4 M171.28,225.95 v-3.0 M171.28,5.75 v3.0 M182.62,225.95 v-3.0 M182.62,5.75 v3.0 M192.44,225.95 v-3.0 M192.44,5.75 v3.0 M201.10,225.95 v-3.0 M201.10,5.75 v3.0 M208.85,225.95 v-4.4 M208.85,5.75 v4.4 M259.83,225.95 v-3.0 M259.83,5.75 v3.0 M289.65,225.95 v-3.0 M289.65,5.75 v3.0 M310.81,225.95 v-3.0 M310.81,5.75 v3.0 M327.22,225.95 v-4.4 M327.22,5.75 v4.4 M340.63,225.95 v-3.0 M340.63,5.75 v3.0 M351.97,225.95 v-3.0 M351.97,5.75 v3.0 M361.79,225.95 v-3.0 M361.79,5.75 v3.0 M370.45,225.95 v-3.0 M370.45,5.75 v3.0 M378.20,225.95 v-4.4 M378.20,5.75 v4.4 M39.5,225.95 h4.4 M378.2,225.95 h-4.4 M39.5,214.94 h3.0 M378.2,214.94 h-3.0 M39.5,203.93 h3.0 M378.2,203.93 h-3.0 M39.5,192.92 h3.0 M378.2,192.92 h-3.0 M39.5,181.91 h4.4 M378.2,181.91 h-4.4 M39.5,170.90 h3.0 M378.2,170.90 h-3.0 M39.5,159.89 h3.0 M378.2,159.89 h-3.0 M39.5,148.88 h3.0 M378.2,148.88 h-3.0 M39.5,137.87 h4.4 M378.2,137.87 h-4.4 M39.5,126.86 h3.0 M378.2,126.86 h-3.0 M39.5,115.85 h3.0 M378.2,115.85 h-3.0 M39.5,104.84 h3.0 M378.2,104.84 h-3.0 M39.5,93.83 h4.4 M378.2,93.83 h-4.4 M39.5,82.82 h3.0 M378.2,82.82 h-3.0 M39.5,71.81 h3.0 M378.2,71.81 h-3.0 M39.5,60.80 h3.0 M378.2,60.80 h-3.0 M39.5,49.79 h4.4 M378.2,49.79 h-4.4 M39.5,38.78 h3.0 M378.2,38.78 h-3.0 M39.5,27.77 h3.0 M378.2,27.77 h-3.0 M39.5,16.76 h3.0 M378.2,16.76 h-3.0 M39.5,5.75 h4.4 M378.2,5.75 h-4.4"/>
</g>
<g font-size="12.5px" fill="#000"><text x="39.5" y="237.2" text-anchor="middle" font-size="12px">10</text><text x="157.9" y="237.2" text-anchor="middle" font-size="12px">50</text><text x="208.8" y="237.2" text-anchor="middle" font-size="12px">100</text><text x="327.2" y="237.2" text-anchor="middle" font-size="12px">500</text><text x="378.2" y="237.2" text-anchor="middle" font-size="12px">1000</text><text x="37.3" y="229.4" text-anchor="end">0.0</text><text x="37.3" y="185.4" text-anchor="end">0.2</text><text x="37.3" y="141.4" text-anchor="end">0.4</text><text x="37.3" y="97.3" text-anchor="end">0.6</text><text x="37.3" y="53.3" text-anchor="end">0.8</text><text x="37.3" y="9.2" text-anchor="end">1.0</text></g>
<!-- legend -->
<g fill="none">
<path d="M239,146.8 H267" stroke="#0000ff" stroke-width="1.5" stroke-dasharray="3.6,2.15"/>
<path d="M239,168 H267.5" stroke="#ff0000" stroke-width="1.5"/>
<path d="M239.5,189.5 H267" stroke="#ff8000" stroke-width="1.3" stroke-dasharray="1,2.3,3.6,2.3"/>
<path d="M239.5,211.3 H267" stroke="#008000" stroke-width="1.3" stroke-dasharray="1,2.3,3.6,2.3"/>
</g>
<g font-size="12.2px" fill="#000">
<text x="273.5" y="150.6">CKMT<tspan dy="0.7">−</tspan><tspan dy="-0.7">NT</tspan></text>
<text x="273.5" y="172.2">CKMT<tspan dx="0.4">+</tspan><tspan dx="0.4">PCAC</tspan><tspan dy="0.7">−</tspan><tspan dy="-0.7">NT</tspan></text>
<text x="273.5" y="193.8">Bodek<tspan dy="0.7">−</tspan><tspan dy="-0.7">Yang</tspan></text>
<text x="273.5" y="215.4">NNSF<tspan font-style="italic" font-size="10.5px">ν</tspan> (D)</text>
</g>
<text x="52.1" y="26.8" font-size="12.2px"><tspan font-style="italic">W</tspan><tspan font-size="8.7px" dy="2.2">min</tspan><tspan dy="-2.2"> = 1.4 GeV</tspan></text>
<text x="113.5" y="101.6" font-size="16px" font-style="italic">ν<tspan font-size="11.5px" dy="2.8">μ</tspan></text>
<text x="183.5" y="142.6" font-size="16px" font-style="italic">ν<tspan font-size="11.5px" dy="2.2">τ</tspan></text>
<text x="183.2" y="255.4" font-size="14.3px"><tspan font-style="italic">E</tspan><tspan font-style="italic" font-size="10px" dy="2">ν</tspan><tspan dy="-2" dx="-1.0"> [GeV]</tspan></text>
<text transform="translate(13.7,193) rotate(-90)" font-size="14.3px"><tspan x="0" y="0" font-style="italic">σ</tspan><tspan x="8.1" y="-5.9" font-size="10px">cc</tspan><tspan x="18.2" y="0">/A</tspan><tspan x="36.6" y="0">/</tspan><tspan font-style="italic">E</tspan><tspan font-style="italic" font-size="11px" y="2.5">ν</tspan><tspan x="57.2" y="0">[10</tspan><tspan font-size="10px" y="-5.2">−</tspan><tspan font-size="10px" y="-5.9">38</tspan><tspan x="96" y="0">cm</tspan><tspan font-size="10px" y="-5.9">2</tspan><tspan y="0">/Ge</tspan><tspan dx="1.2">V]</tspan></text>
</svg>
</body></html>
